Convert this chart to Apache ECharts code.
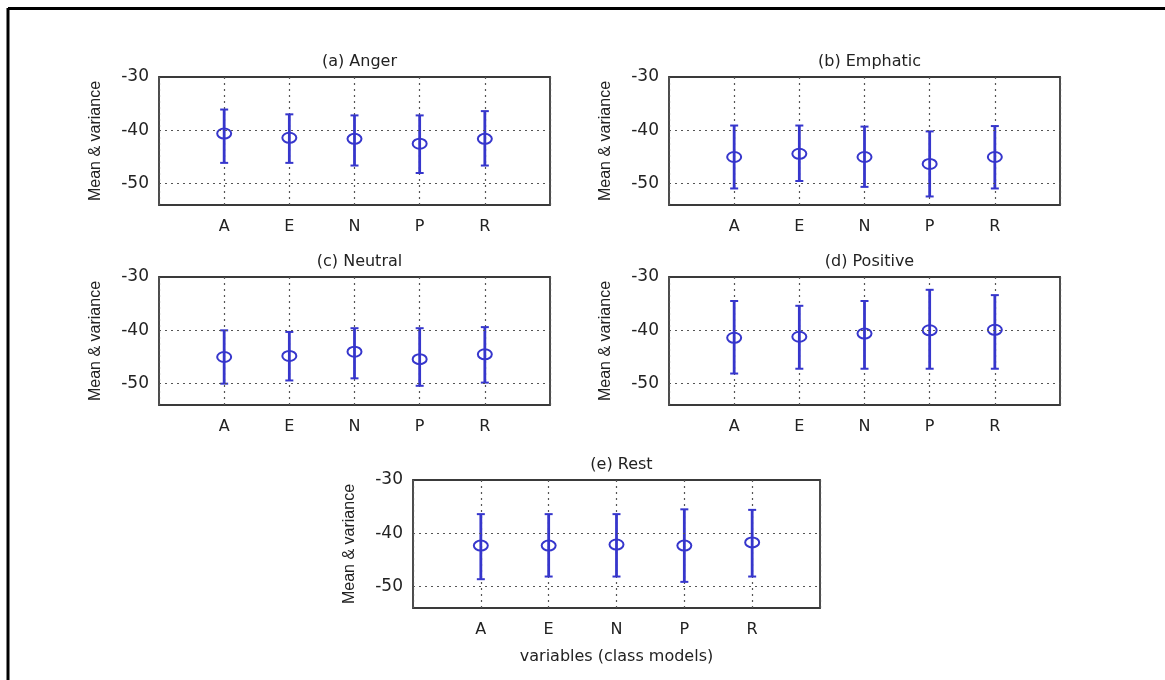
<!DOCTYPE html>
<html>
<head>
<meta charset="utf-8">
<script src="https://cdn.jsdelivr.net/npm/echarts@6/dist/echarts.min.js"></script>
<style>
html,body{margin:0;padding:0;background:#fff;}
#chart{width:1165px;height:680px;}
</style>
</head>
<body>
<div id="chart"></div>
<script>
// ---- data ----
const categories = ['A', 'E', 'N', 'P', 'R'];
const panelTitles = ['(a) Anger', '(b) Emphatic', '(c) Neutral', '(d) Positive', '(e) Rest'];
const yTickLabels = [-30, -40, -50];
const yGridValues = [-40, -50];

const angerMean = [-40.6, -41.4, -41.6, -42.5, -41.6];
const angerLow  = [-46.1, -46.1, -46.6, -48.0, -46.6];
const angerHigh = [-36.1, -37.0, -37.2, -37.2, -36.4];

const emphaticMean = [-45.0, -44.4, -45.0, -46.3, -45.0];
const emphaticLow  = [-50.9, -49.5, -50.6, -52.4, -50.9];
const emphaticHigh = [-39.1, -39.1, -39.3, -40.2, -39.2];

const neutralMean = [-45.0, -44.8, -44.0, -45.4, -44.5];
const neutralLow  = [-50.0, -49.4, -49.0, -50.4, -49.8];
const neutralHigh = [-40.0, -40.3, -39.6, -39.6, -39.4];

const positiveMean = [-41.4, -41.2, -40.6, -40.0, -39.9];
const positiveLow  = [-48.1, -47.2, -47.2, -47.2, -47.2];
const positiveHigh = [-34.5, -35.4, -34.5, -32.4, -33.4];

const restMean = [-42.3, -42.3, -42.1, -42.3, -41.7];
const restLow  = [-48.6, -48.1, -48.1, -49.1, -48.1];
const restHigh = [-36.4, -36.4, -36.4, -35.5, -35.6];

const xAxisName = 'variables (class models)';
const yAxisName = 'Mean & variance';

// ---- layout / style ----
const panels = [
  { mean: angerMean, low: angerLow, high: angerHigh, grid: { left: 159, top: 77, width: 391, height: 128 } },
  { mean: emphaticMean, low: emphaticLow, high: emphaticHigh, grid: { left: 669, top: 77, width: 391, height: 128 } },
  { mean: neutralMean, low: neutralLow, high: neutralHigh, grid: { left: 159, top: 277, width: 391, height: 128 } },
  { mean: positiveMean, low: positiveLow, high: positiveHigh, grid: { left: 669, top: 277, width: 391, height: 128 } },
  { mean: restMean, low: restLow, high: restHigh, grid: { left: 413, top: 480, width: 407, height: 128 } }
];

const BLUE = '#3636cc';
const TXT = '#222';
const FONT = 'DejaVu Sans';

function renderErr(params, api) {
  const x = api.value(0);
  const pMean = api.coord([x, api.value(1)]);
  const pLow = api.coord([x, api.value(2)]);
  const pHigh = api.coord([x, api.value(3)]);
  const cap = 4;
  return {
    type: 'group',
    children: [
      { type: 'line', shape: { x1: pLow[0], y1: pLow[1], x2: pHigh[0], y2: pHigh[1] }, style: { stroke: BLUE, lineWidth: 2.8 } },
      { type: 'line', shape: { x1: pLow[0] - cap, y1: pLow[1], x2: pLow[0] + cap, y2: pLow[1] }, style: { stroke: BLUE, lineWidth: 2 } },
      { type: 'line', shape: { x1: pHigh[0] - cap, y1: pHigh[1], x2: pHigh[0] + cap, y2: pHigh[1] }, style: { stroke: BLUE, lineWidth: 2 } },
      { type: 'ellipse', shape: { cx: pMean[0], cy: pMean[1], rx: 7, ry: 5 }, style: { stroke: BLUE, fill: 'none', lineWidth: 2 } }
    ]
  };
}

const grids = [], xAxes = [], yAxes = [], series = [], titles = [];
panels.forEach((p, i) => {
  grids.push(Object.assign({ show: true, borderColor: '#3a3a3a', borderWidth: 1.8, backgroundColor: '#fff' }, p.grid));
  titles.push({
    text: panelTitles[i],
    left: p.grid.left + p.grid.width / 2,
    top: p.grid.top - 28,
    textAlign: 'center',
    textStyle: { fontFamily: FONT, fontSize: 16, fontWeight: 'normal', color: TXT }
  });
  xAxes.push({
    type: 'value', gridIndex: i, min: 0, max: 6, interval: 1,
    axisLine: { show: false }, axisTick: { show: false },
    axisLabel: { margin: 14, fontFamily: FONT, fontSize: 16, color: TXT,
      formatter: v => categories[v - 1] || '' },
    splitLine: { show: true, lineStyle: { color: '#555', type: [2, 4], width: 1.2 } },
    name: i === 4 ? xAxisName : '',
    nameLocation: 'middle', nameGap: 41,
    nameTextStyle: { fontFamily: FONT, fontSize: 16, color: TXT }
  });
  yAxes.push({
    type: 'value', gridIndex: i, min: -54, max: -30, interval: 2,
    axisLine: { show: false }, axisTick: { show: false },
    splitLine: { show: false },
    axisLabel: { margin: 10, fontFamily: FONT, fontSize: 17, color: TXT,
      formatter: v => (yTickLabels.indexOf(v) >= 0 ? String(v) : '') },
    name: yAxisName, nameLocation: 'middle', nameGap: 55, nameRotate: 90,
    nameTextStyle: { fontFamily: 'Liberation Sans', fontSize: 16, color: TXT }
  });
  series.push({
    type: 'custom', xAxisIndex: i, yAxisIndex: i,
    renderItem: renderErr,
    encode: { x: 0, y: [1, 2, 3] },
    data: categories.map((c, k) => [k + 1, p.mean[k], p.low[k], p.high[k]]),
    z: 3,
    markLine: {
      silent: true, symbol: 'none', label: { show: false },
      lineStyle: { color: '#555', type: [2, 4], width: 1.2 },
      data: yGridValues.map(v => ({ yAxis: v }))
    }
  });
});

const option = {
  backgroundColor: '#fff',
  animation: false,
  title: titles,
  grid: grids,
  xAxis: xAxes,
  yAxis: yAxes,
  series: series,
  graphic: [
    { type: 'line', shape: { x1: 8, y1: 8.5, x2: 1165, y2: 8.5 }, style: { stroke: '#000', lineWidth: 3 } },
    { type: 'line', shape: { x1: 8, y1: 8, x2: 8, y2: 680 }, style: { stroke: '#000', lineWidth: 3 } }
  ]
};

const chart = echarts.init(document.getElementById('chart'));
chart.setOption(option);
</script>
</body>
</html>
